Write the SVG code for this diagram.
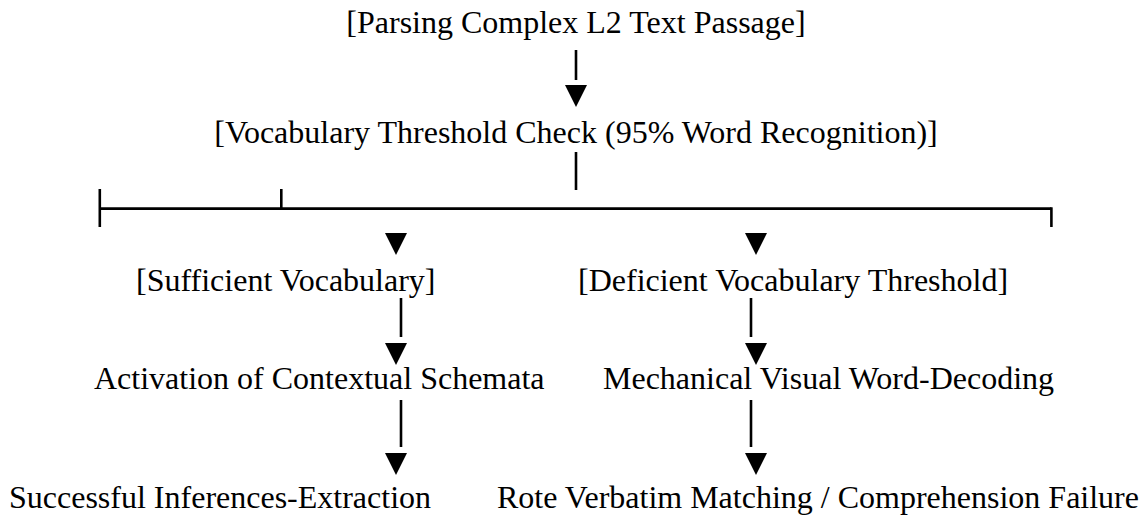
<svg xmlns="http://www.w3.org/2000/svg" width="1148" height="520" viewBox="0 0 1148 520">
<style>
text{font-family:"Liberation Serif","Times New Roman",serif;font-size:32px;fill:#000}
.ln{stroke:#000;stroke-width:2.6;fill:none}
</style>
<defs>
<polygon id="tri" points="-11,0 11,0 0,22" fill="#000"/>
</defs>
<rect width="1148" height="520" fill="#fff"/>
<g id="n1"><text x="576" y="33" text-anchor="middle">[Parsing Complex L2 Text Passage]</text></g>
<g id="n2"><text x="576" y="143" text-anchor="middle">[Vocabulary Threshold Check (95% Word Recognition)]</text></g>
<g id="n3"><text x="136" y="291">[Sufficient Vocabulary]</text></g>
<g id="n4"><text x="578" y="291">[Deficient Vocabulary Threshold]</text></g>
<g id="n5"><text x="94" y="389">Activation of Contextual Schemata</text></g>
<g id="n6"><text x="603" y="389">Mechanical Visual Word-Decoding</text></g>
<g id="n7"><text x="9" y="508">Successful Inferences-Extraction</text></g>
<g id="n8"><text x="497" y="508">Rote Verbatim Matching / Comprehension Failure</text></g>
<g id="connectors">
<line class="ln" x1="576" y1="50" x2="576" y2="80"/>
<use href="#tri" x="576" y="85"/>
<line class="ln" x1="576" y1="152" x2="576" y2="190"/>
<line class="ln" x1="99.8" y1="208.6" x2="1051.4" y2="208.6"/>
<line class="ln" x1="99.8" y1="189" x2="99.8" y2="227"/>
<line class="ln" x1="281.3" y1="189" x2="281.3" y2="208.6"/>
<line class="ln" x1="1051.4" y1="207.3" x2="1051.4" y2="227"/>
<use href="#tri" x="396" y="233"/>
<use href="#tri" x="756" y="233"/>
<line class="ln" x1="401" y1="298" x2="401" y2="337"/>
<use href="#tri" x="396" y="343"/>
<line class="ln" x1="401" y1="400" x2="401" y2="447"/>
<use href="#tri" x="396" y="453"/>
<line class="ln" x1="751" y1="298" x2="751" y2="337"/>
<use href="#tri" x="756" y="343"/>
<line class="ln" x1="751" y1="400" x2="751" y2="447"/>
<use href="#tri" x="756" y="453"/>
</g>
</svg>
